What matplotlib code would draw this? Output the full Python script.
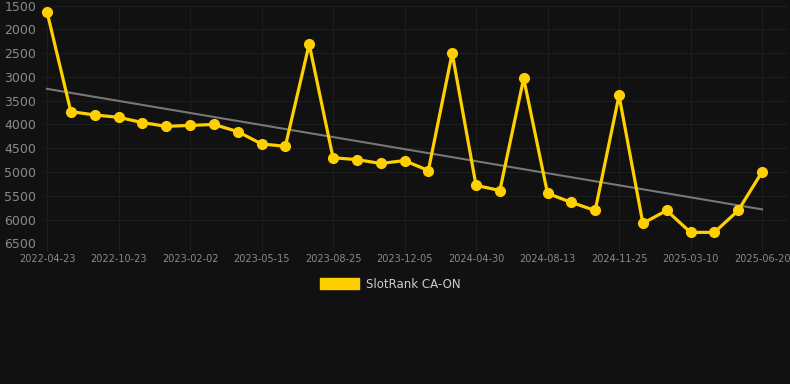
import matplotlib
matplotlib.use("Agg")
import matplotlib.pyplot as plt
from matplotlib.patches import Patch
import numpy as np

# rank per observation (lower is better, axis is inverted)
ranks = [1630, 3730, 3800, 3850, 3960, 4040, 4020, 4000, 4150, 4410, 4460,
         2310, 4700, 4740, 4820, 4760, 4970, 2500, 5280, 5390, 3030, 5450,
         5640, 5810, 3390, 6080, 5810, 6270, 6270, 5810, 5000]
# every third observation carries a date label
tick_labels = ["2022-04-23", "2022-10-23", "2023-02-02", "2023-05-15",
               "2023-08-25", "2023-12-05", "2024-04-30", "2024-08-13",
               "2024-11-25", "2025-03-10", "2025-06-20"]
y_ticks = [1500, 2000, 2500, 3000, 3500, 4000, 4500, 5000, 5500, 6000, 6500]
series_name = "SlotRank CA-ON"

BG = "#111111"
GRID = "#1d1d1d"
LABEL = "#8a8a8a"
YELLOW = "#FFD000"

x = np.arange(len(ranks))
slope, intercept = np.polyfit(x, ranks, 1)
trend = slope * x + intercept

fig = plt.figure(figsize=(7.9, 3.84), dpi=100, facecolor=BG)
ax = fig.add_axes([42 / 790, 1 - 243.3 / 384, (788 - 42) / 790, (243.3 - 5.6) / 384])
ax.set_facecolor(BG)

ax.plot(x[[0, -1]], trend[[0, -1]], color="#777777", lw=1.5, zorder=2)
ax.plot(x, ranks, color=YELLOW, lw=2.3, marker="o", ms=7, zorder=3,
        clip_on=False)

ax.set_xlim(-0.21, 31.09)
ax.set_ylim(6500, 1500)
ax.set_yticks(y_ticks)
ax.set_yticklabels([str(v) for v in y_ticks])
ax.set_xticks(x[::3])
ax.set_xticklabels(tick_labels)

ax.grid(True, color=GRID, lw=0.8)
ax.set_axisbelow(True)
for s in ax.spines.values():
    s.set_visible(False)
ax.tick_params(axis="y", length=0, pad=4, labelsize=9, labelcolor=LABEL)
ax.tick_params(axis="x", length=6, color=GRID, pad=2, labelsize=7, labelcolor=LABEL)
for lbl in ax.get_yticklabels():
    lbl.set_horizontalalignment("left")
    lbl.set_x(-32 / 746)

fig.legend(handles=[Patch(facecolor=YELLOW, edgecolor=YELLOW, label=series_name)],
           loc="center", bbox_to_anchor=(390 / 790, 1 - 284 / 384),
           frameon=False, fontsize=8.5, labelcolor="#cccccc",
           handlelength=3.3, handleheight=1.0, handletextpad=0.6)

fig.savefig("out.png", dpi=100, facecolor=BG)
